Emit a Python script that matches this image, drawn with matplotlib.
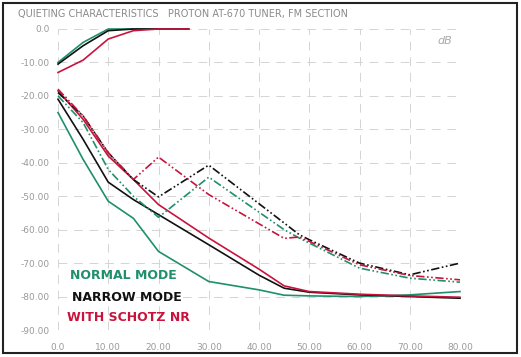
import matplotlib
matplotlib.use("Agg")
import matplotlib.pyplot as plt
from matplotlib.patches import Rectangle

# ---- data ----
title = "QUIETING CHARACTERISTICS   PROTON AT-670 TUNER, FM SECTION"
x_ticks = [0, 10, 20, 30, 40, 50, 60, 70, 80]
x_ticklabels = ["0.0", "10.00", "20.00", "30.00", "40.00", "50.00", "60.00", "70.00", "80.00"]
y_ticks = [0, -10, -20, -30, -40, -50, -60, -70, -80, -90]
y_ticklabels = ["0.0", "-10.00", "-20.00", "-30.00", "-40.00", "-50.00", "-60.00", "-70.00", "-80.00", "-90.00"]

# mono (upper) curves
mono_x = [0, 5, 10, 15, 20, 26]
mono_normal = [-10, -4, 0, 0, 0, 0]
mono_narrow = [-10.5, -5, -0.5, 0, 0, 0]
mono_schotz = [-13, -9.3, -3, -0.5, 0, 0]

# stereo noise (solid) curves
st_x = [0, 5, 10, 15, 20, 30, 40, 45, 50, 60, 70, 80]
st_normal = [-25, -39, -51.5, -56.6, -66.5, -75.5, -78, -79.6, -79.8, -80, -79.5, -78.5]
st_narrow = [-21, -33, -45.8, -51, -55.5, -64.5, -73.6, -77.5, -78.7, -79.5, -80, -80.5]
st_schotz = [-18.5, -27, -38, -45, -52.5, -62.5, -71.8, -76.8, -78.5, -79.3, -79.8, -80.2]

# distortion-type (dash-dot) curves
dd_x = [0, 5, 10, 15, 20, 30, 45, 48, 50, 60, 70, 80]
dd_normal = [-20, -28, -42, -50, -56.3, -44.3, -60, -62.5, -64, -71.5, -74.5, -75.7]
dd_narrow = [-19, -26, -37, -45, -50.2, -40.7, -58, -61.5, -63, -70, -73.5, -70]
dd_schotz = [-18, -26, -37, -45, -38.3, -49.5, -62.6, -62.2, -63.5, -70.5, -73.7, -75]

legend_labels = ["NORMAL MODE", "NARROW MODE", "WITH SCHOTZ NR"]

# ---- style ----
GREEN = "#1f8f6c"
BLACK = "#111111"
RED = "#c8143c"
GRAY = "#9a9a9a"

fig = plt.figure(figsize=(5.21, 3.57), dpi=100)
ax = fig.add_axes([58/521, 1-330/357, 402/521, 301/357])
ax.set_xlim(0, 80)
ax.set_ylim(-90, 0)

for s in ax.spines.values():
    s.set_visible(False)

ax.set_xticks(x_ticks)
ax.set_xticklabels(x_ticklabels)
ax.set_yticks(y_ticks)
ax.set_yticklabels(y_ticklabels)
ax.tick_params(length=0, labelsize=6.5, labelcolor=GRAY)
ax.tick_params(axis="x", pad=9)
ax.tick_params(axis="y", pad=6)
ax.grid(True, color="#d4d4d4", linewidth=0.7, linestyle=(0, (9, 7)))

lw = 1.2
dd = (0, (5, 1.5, 1, 1.5, 1, 1.5))
ax.plot(mono_x, mono_normal, color=GREEN, lw=lw, clip_on=False)
ax.plot(mono_x, mono_narrow, color=BLACK, lw=lw, clip_on=False)
ax.plot(mono_x, mono_schotz, color=RED, lw=lw, clip_on=False)

ax.plot(st_x, st_normal, color=GREEN, lw=lw, clip_on=False)
ax.plot(st_x, st_narrow, color=BLACK, lw=lw, clip_on=False)
ax.plot(st_x, st_schotz, color=RED, lw=lw, clip_on=False)

ax.plot(dd_x, dd_normal, color=GREEN, lw=lw, ls=dd, clip_on=False)
ax.plot(dd_x, dd_narrow, color=BLACK, lw=lw, ls=dd, clip_on=False)
ax.plot(dd_x, dd_schotz, color=RED, lw=lw, ls=dd, clip_on=False)

# legend as coloured text
for lab, col, xx, y in zip(legend_labels, [GREEN, BLACK, RED],
                           [2.4, 2.8, 1.8], [-73.6, -80.2, -86.2]):
    ax.text(xx, y, lab, color=col, fontsize=9, fontweight="bold",
            family="DejaVu Sans", va="center", ha="left")

fig.text(18/521, 1-14/357, title, color="#8a8a8a", fontsize=7,
         va="center", ha="left")
ax.text(77, -3.5, "dB", color="#aaaaaa", fontsize=8, style="italic",
        ha="center", va="center")

# page border
fig.patches.append(Rectangle((3/521, 4/357), 514/521, 350/357,
                             transform=fig.transFigure, fill=False,
                             edgecolor="#222222", linewidth=1.5))

fig.savefig("out.png", dpi=100)
